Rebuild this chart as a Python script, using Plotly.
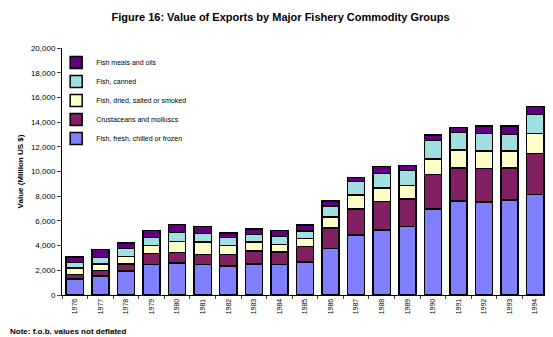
import plotly.graph_objects as go

years = [str(y) for y in range(1976, 1995)]

# values in million US $
fresh = [1280, 1550, 1960, 2450, 2610, 2450, 2340, 2500, 2450, 2660,
         3780, 4860, 5260, 5530, 6960, 7610, 7530, 7690, 8150]
crustaceans = [400, 440, 540, 900, 850, 820, 920, 1060, 1030, 1250,
               1650, 2100, 2300, 2240, 2780, 2670, 2700, 2590, 3290]
dried = [490, 540, 600, 650, 870, 1010, 740, 730, 600, 650,
         890, 1140, 1100, 1080, 1270, 1460, 1430, 1380, 1620]
canned = [460, 490, 650, 650, 730, 710, 650, 600, 650, 630,
          890, 1080, 1160, 1220, 1490, 1400, 1400, 1320, 1540]
meals = [430, 650, 460, 570, 630, 540, 380, 460, 490, 480,
         400, 350, 600, 430, 460, 440, 620, 700, 680]

series = [
    ("Fish, fresh, chilled or frozen", fresh, "#8080FF"),
    ("Crustaceans and molluscs", crustaceans, "#802060"),
    ("Fish, dried, salted or smoked", dried, "#FFFFC8"),
    ("Fish, canned", canned, "#A0E0E0"),
    ("Fish meals and oils", meals, "#600080"),
]

fig = go.Figure()
for name, vals, col in series:
    fig.add_trace(go.Bar(
        x=years, y=vals, name=name,
        marker=dict(color=col, line=dict(color="black", width=1.5)),
    ))

fnt = "Liberation Sans"
# page body has an 8px margin, so the figure is a bit smaller than the window
fig.update_layout(
    barmode="stack",
    bargap=0.33,
    width=545, height=329,
    margin=dict(l=54, r=5, t=40, b=42),
    plot_bgcolor="white", paper_bgcolor="white",
    font=dict(family=fnt, size=8, color="black"),
    title=dict(text="<b>Figure 16: Value of Exports by Major Fishery Commodity Groups</b>",
               x=0.5, xanchor="center", y=0.973, yanchor="middle",
               font=dict(family=fnt, size=11, color="black")),
    showlegend=True,
    legend=dict(x=-0.012, y=1.0, xanchor="left", yanchor="top",
                traceorder="reversed", bgcolor="rgba(0,0,0,0)",
                font=dict(family=fnt, size=7), tracegroupgap=0,
                itemwidth=30),
    xaxis=dict(showline=True, linecolor="black", linewidth=1,
               ticks="outside", tickson="boundaries", ticklen=3,
               tickangle=-90, tickfont=dict(size=7), showgrid=False,
               automargin=False),
    yaxis=dict(range=[0, 20000], dtick=2000, tickformat=",",
               showline=True, linecolor="black", linewidth=1,
               ticks="outside", ticklen=4, showgrid=False,
               tickfont=dict(size=8), automargin=False,
               title=dict(text="<b>Value (Million US $)</b>",
                          font=dict(family=fnt, size=8), standoff=6)),
)

fig.add_annotation(text="<b>Note: f.o.b. values not deflated</b>",
                   xref="paper", yref="paper", x=-0.111, y=-0.146,
                   xanchor="left", yanchor="middle", showarrow=False,
                   font=dict(family=fnt, size=8, color="black"))

fig.write_html("out.html")
